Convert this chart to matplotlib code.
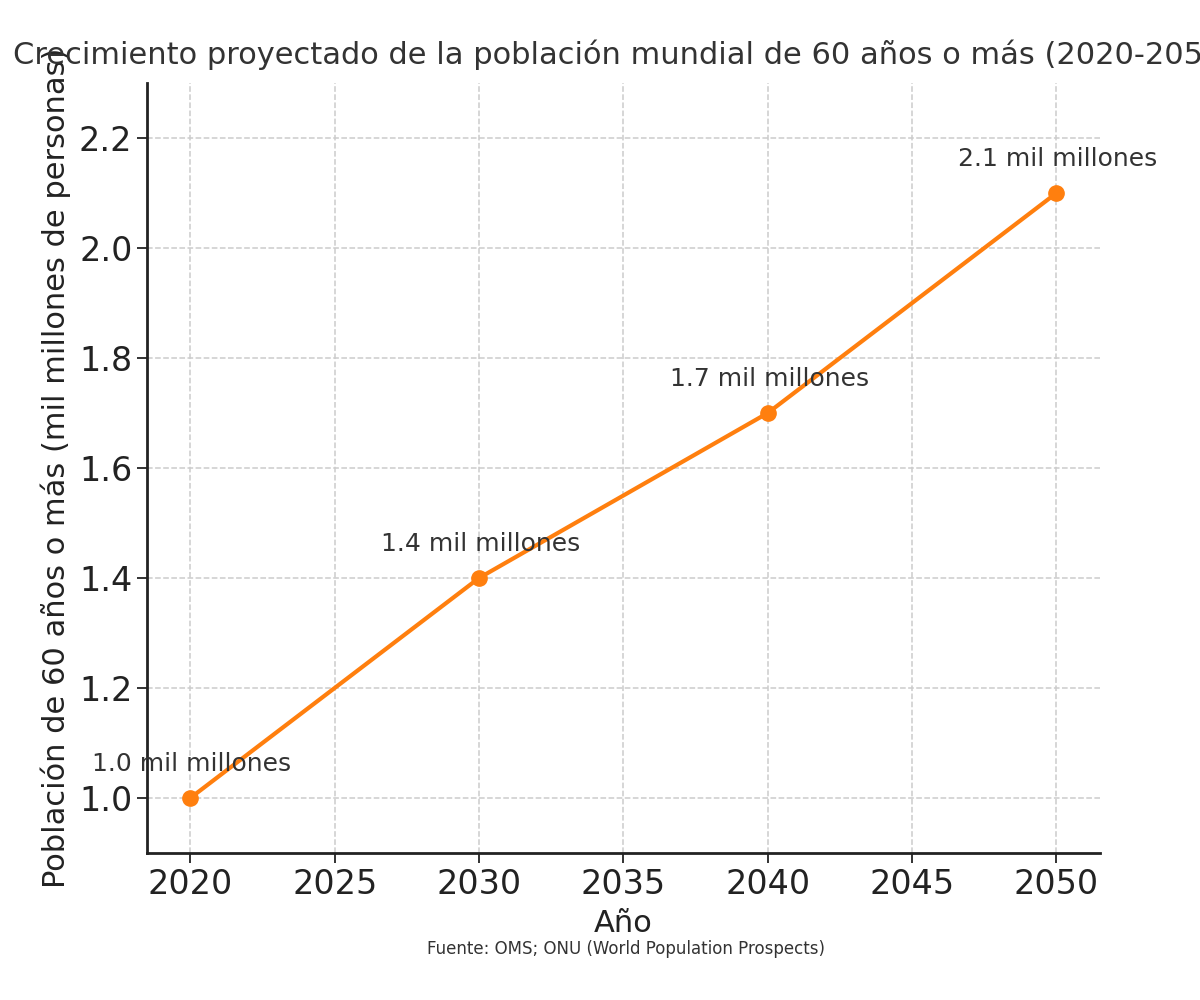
import matplotlib
matplotlib.use("Agg")
import matplotlib.pyplot as plt

# data
years = [2020, 2030, 2040, 2050]
poblacion = [1.0, 1.4, 1.7, 2.1]
etiquetas = ["1.0 mil millones", "1.4 mil millones", "1.7 mil millones", "2.1 mil millones"]
xticks = [2020, 2025, 2030, 2035, 2040, 2045, 2050]
yticks = [1.0, 1.2, 1.4, 1.6, 1.8, 2.0, 2.2]

fig = plt.figure(figsize=(12, 10), dpi=100)
ax = fig.add_axes([0.1225, 0.147, 0.794, 0.77])

ax.plot(years, poblacion, color="#ff7f0e", linewidth=3, marker="o", markersize=11)

for x, y, t in zip(years, poblacion, etiquetas):
    ax.annotate(t, (x, y), xytext=(1, 16), textcoords="offset points",
                ha="center", va="bottom", fontsize=18, color="#333333")

ax.set_xticks(xticks)
ax.set_yticks(yticks)
ax.set_ylim(0.9, 2.3)
ax.tick_params(labelsize=24, colors="#222222", length=7, width=1.3, direction="out")
ax.grid(True, linestyle="--", color="#cccccc", linewidth=1.1)
ax.set_axisbelow(True)
for s in ["top", "right"]:
    ax.spines[s].set_visible(False)
for s in ["left", "bottom"]:
    ax.spines[s].set_linewidth(2)
    ax.spines[s].set_color("#222222")

ax.set_title("Crecimiento proyectado de la población mundial de 60 años o más (2020-2050)",
             fontsize=22, color="#333333", pad=14)
ax.set_xlabel("Año", fontsize=22, color="#222222", labelpad=6)
ax.set_ylabel("Población de 60 años o más (mil millones de personas)", fontsize=22,
              color="#222222", labelpad=6)
fig.text(0.5213, 0.051, "Fuente: OMS; ONU (World Population Prospects)", ha="center",
         va="center", fontsize=12, color="#333333")

fig.savefig("out.png", dpi=100)
